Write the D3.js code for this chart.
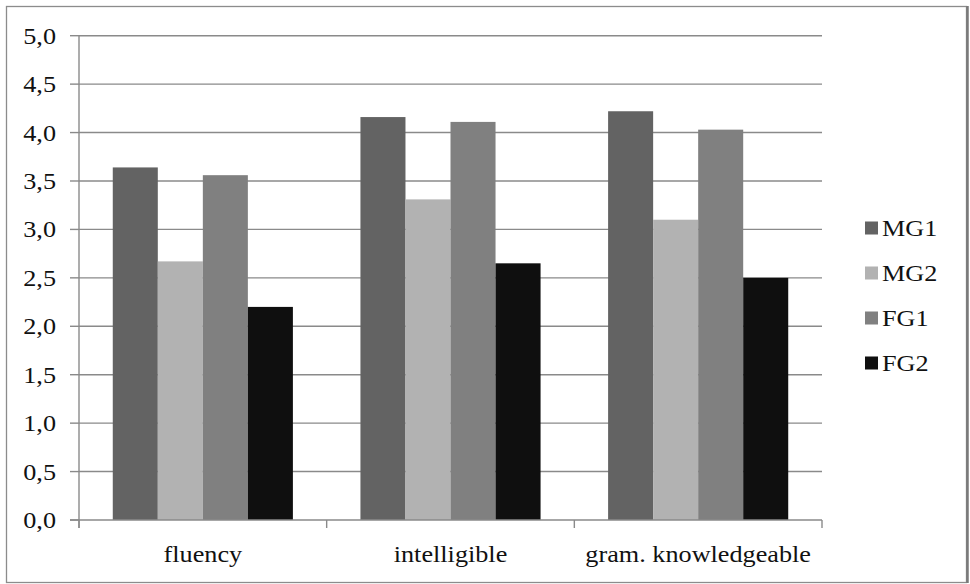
<!DOCTYPE html>
<html>
<head>
<meta charset="utf-8">
<script src="https://cdn.jsdelivr.net/npm/d3@7"></script>
<style>
  html, body { margin: 0; padding: 0; background: #fff; }
  svg { display: block; }
</style>
</head>
<body>
<svg id="chart" width="970" height="584"></svg>
<script>
// Mean ratings per criterion for each group
const categories = ["fluency", "intelligible", "gram. knowledgeable"];
const seriesNames = ["MG1", "MG2", "FG1", "FG2"];
const MG1 = [3.64, 4.16, 4.22];
const MG2 = [2.67, 3.31, 3.10];
const FG1 = [3.56, 4.11, 4.03];
const FG2 = [2.20, 2.65, 2.50];
const seriesColors = ["#636363", "#b2b2b2", "#808080", "#0f0f0f"];
const yTicks = [0, 0.5, 1, 1.5, 2, 2.5, 3, 3.5, 4, 4.5, 5];

const seriesValues = [MG1, MG2, FG1, FG2];
const svg = d3.select("#chart");

const plot = { left: 79, right: 822, top: 35.7, bottom: 520 };
const fontFamily = "'Liberation Serif', 'Times New Roman', Times, serif";
const fontSize = 23, stretch = 1.14;

// outer frame
svg.append("rect")
  .attr("x", 6.5).attr("y", 6.5).attr("width", 960).attr("height", 576)
  .attr("fill", "#fff").attr("stroke", "#8c8c8c").attr("stroke-width", 1.3);
svg.append("line")
  .attr("x1", 967.5).attr("x2", 967.5).attr("y1", 6).attr("y2", 583)
  .attr("stroke", "#7a7a7a").attr("stroke-width", 2.5);

const x = d3.scaleBand().domain(categories).range([plot.left, plot.right]).padding(0);
const xs = d3.scaleBand().domain(seriesNames).range([0, x.bandwidth()])
  .paddingInner(0).paddingOuter(0.75);
const y = d3.scaleLinear().domain([0, 5]).range([plot.bottom, plot.top]);

const lineColor = "#8a8a8a";

// horizontal gridlines
svg.append("g").selectAll("line").data(yTicks.filter(d => d > 0)).join("line")
  .attr("x1", plot.left).attr("x2", plot.right)
  .attr("y1", d => y(d)).attr("y2", d => y(d))
  .attr("stroke", lineColor).attr("stroke-width", 1.4);

// bars
const rows = categories.map((c, i) => ({ cat: c, vals: seriesNames.map((s, j) => ({ s, v: seriesValues[j][i], color: seriesColors[j] })) }));
svg.append("g").selectAll("g").data(rows).join("g")
  .attr("transform", d => `translate(${x(d.cat)},0)`)
  .selectAll("rect").data(d => d.vals).join("rect")
  .attr("x", d => xs(d.s)).attr("width", xs.bandwidth())
  .attr("y", d => y(d.v)).attr("height", d => y(0) - y(d.v))
  .attr("fill", d => d.color);

// y axis line and tick marks
svg.append("line")
  .attr("x1", plot.left).attr("x2", plot.left).attr("y1", plot.top).attr("y2", plot.bottom + 8)
  .attr("stroke", lineColor).attr("stroke-width", 1.4);
svg.append("g").selectAll("line").data(yTicks).join("line")
  .attr("x1", plot.left - 9).attr("x2", plot.left)
  .attr("y1", d => y(d)).attr("y2", d => y(d))
  .attr("stroke", lineColor).attr("stroke-width", 1.4);

// x axis line and category separators
svg.append("line")
  .attr("x1", plot.left - 9).attr("x2", plot.right).attr("y1", plot.bottom).attr("y2", plot.bottom)
  .attr("stroke", lineColor).attr("stroke-width", 1.4);
const bounds = categories.map(c => x(c)).concat([plot.right]);
svg.append("g").selectAll("line").data(bounds).join("line")
  .attr("x1", d => d).attr("x2", d => d).attr("y1", plot.bottom).attr("y2", plot.bottom + 8)
  .attr("stroke", lineColor).attr("stroke-width", 1.4);

const fmt = d => d3.format(".1f")(d).replace(".", ",");

function styleText(sel) {
  return sel.attr("font-family", fontFamily).attr("font-size", fontSize).attr("fill", "#111");
}

// y tick labels
svg.append("g").selectAll("text").data(yTicks).join("text")
  .attr("transform", d => `translate(56,${y(d) + 8}) scale(${stretch},1)`)
  .attr("text-anchor", "end")
  .call(styleText)
  .text(fmt);

// category labels
svg.append("g").selectAll("text").data(categories).join("text")
  .attr("transform", d => `translate(${x(d) + x.bandwidth() / 2},562) scale(${stretch},1)`)
  .attr("text-anchor", "middle")
  .call(styleText)
  .text(d => d);

// legend
const legend = svg.append("g").selectAll("g").data(seriesNames).join("g")
  .attr("transform", (d, i) => `translate(865,${228 + i * 45})`);
legend.append("rect")
  .attr("x", 0).attr("y", -6.5).attr("width", 13).attr("height", 13)
  .attr("fill", (d, i) => seriesColors[i]);
legend.append("text")
  .attr("transform", `translate(17,8) scale(${stretch},1)`)
  .call(styleText)
  .text(d => d);
</script>
</body>
</html>
